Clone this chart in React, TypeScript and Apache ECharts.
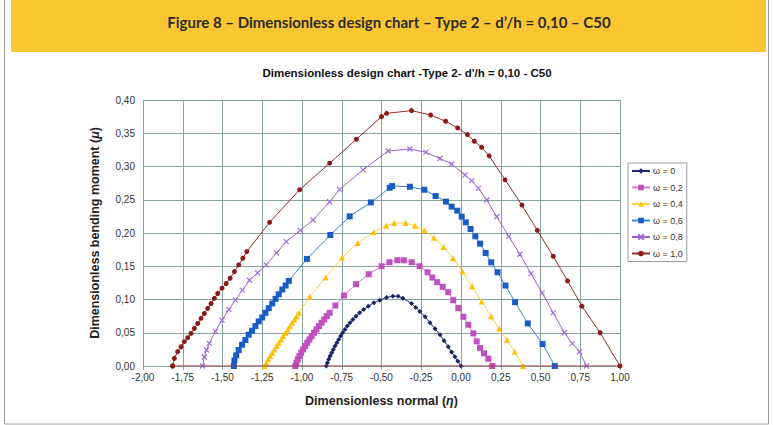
import React, { useEffect, useRef } from 'react';
import * as echarts from 'echarts';

const HEADER_TEXT = 'Figure 8 – Dimensionless design chart – Type 2 – d’/h = 0,10 – C50';
const CHART_TITLE = "Dimensionless design chart -Type 2- d'/h = 0,10 - C50";
const SERIES_NAMES = ['ω = 0', 'ω = 0,2', 'ω = 0,4', 'ω = 0,6', 'ω = 0,8', 'ω = 1,0'];

// [eta, mu] pairs
const W00: [number, number][] = [
  [-0.847, 0], [-0.84, 0.005], [-0.832, 0.01], [-0.823, 0.015], [-0.813, 0.02], [-0.803, 0.025],
  [-0.792, 0.03], [-0.781, 0.035], [-0.769, 0.04], [-0.757, 0.045], [-0.744, 0.05], [-0.73, 0.055],
  [-0.715, 0.06], [-0.698, 0.065], [-0.68, 0.07], [-0.66, 0.075], [-0.638, 0.08], [-0.612, 0.085],
  [-0.583, 0.09], [-0.548, 0.095], [-0.511, 0.099], [-0.468, 0.103], [-0.429, 0.105], [-0.395, 0.105],
  [-0.366, 0.102], [-0.311, 0.094], [-0.285, 0.088], [-0.259, 0.082], [-0.226, 0.074], [-0.195, 0.065],
  [-0.163, 0.056], [-0.132, 0.047], [-0.106, 0.038], [-0.08, 0.029], [-0.059, 0.021], [-0.038, 0.014],
  [-0.02, 0.007], [0, 0],
];
const W02: [number, number][] = [
  [-1.042, 0], [-1.035, 0.005], [-1.026, 0.01], [-1.016, 0.015], [-1.005, 0.02], [-0.993, 0.025],
  [-0.98, 0.03], [-0.967, 0.035], [-0.953, 0.04], [-0.939, 0.045], [-0.924, 0.05], [-0.909, 0.055],
  [-0.893, 0.06], [-0.877, 0.065], [-0.861, 0.07], [-0.844, 0.075], [-0.826, 0.08], [-0.79, 0.091],
  [-0.736, 0.106], [-0.66, 0.123], [-0.58, 0.138], [-0.5, 0.15], [-0.45, 0.156], [-0.4, 0.159],
  [-0.36, 0.159], [-0.31, 0.156], [-0.26, 0.15], [-0.21, 0.141], [-0.18, 0.133], [-0.15, 0.126],
  [-0.115, 0.119], [-0.08, 0.111], [-0.049, 0.099], [-0.017, 0.087], [0.015, 0.074], [0.046, 0.062],
  [0.078, 0.049], [0.099, 0.037], [0.12, 0.027], [0.145, 0.019], [0.172, 0.011], [0.197, 0],
];
const W04: [number, number][] = [
  [-1.236, 0], [-1.225, 0.005], [-1.213, 0.01], [-1.2, 0.015], [-1.187, 0.02], [-1.174, 0.025],
  [-1.16, 0.03], [-1.146, 0.035], [-1.132, 0.04], [-1.118, 0.045], [-1.104, 0.05], [-1.09, 0.055],
  [-1.076, 0.06], [-1.062, 0.065], [-1.048, 0.07], [-1.034, 0.075], [-1.02, 0.08], [-0.952, 0.104],
  [-0.851, 0.133], [-0.748, 0.163], [-0.65, 0.185], [-0.55, 0.201], [-0.47, 0.211], [-0.42, 0.215],
  [-0.35, 0.215], [-0.29, 0.211], [-0.23, 0.204], [-0.17, 0.193], [-0.11, 0.179], [-0.05, 0.162],
  [0.01, 0.142], [0.07, 0.12], [0.13, 0.097], [0.19, 0.075], [0.24, 0.056], [0.29, 0.039],
  [0.338, 0.0215], [0.39, 0],
];
const W06: [number, number][] = [
  [-1.429, 0], [-1.425, 0.0085], [-1.414, 0.016], [-1.398, 0.024], [-1.377, 0.032], [-1.356, 0.039],
  [-1.335, 0.047], [-1.314, 0.053], [-1.293, 0.06], [-1.272, 0.067], [-1.25, 0.073], [-1.23, 0.08],
  [-1.209, 0.087], [-1.187, 0.094], [-1.166, 0.101], [-1.146, 0.108], [-1.124, 0.115], [-1.103, 0.121],
  [-1.083, 0.128], [-0.969, 0.161], [-0.822, 0.197], [-0.7, 0.225], [-0.567, 0.246], [-0.448, 0.268],
  [-0.433, 0.2706], [-0.3215, 0.2696], [-0.231, 0.265], [-0.16, 0.2556], [-0.0946, 0.2472],
  [-0.0588, 0.2396], [-0.0233, 0.2336], [0.0044, 0.2245], [0.03, 0.216], [0.06, 0.206], [0.09, 0.195],
  [0.12, 0.184], [0.155, 0.17], [0.19, 0.156], [0.23, 0.141], [0.28, 0.121], [0.34, 0.096],
  [0.42, 0.064], [0.513, 0.033], [0.59, 0],
];
const W08: [number, number][] = [
  [-1.625, 0], [-1.614, 0.0135], [-1.6, 0.024], [-1.583, 0.034], [-1.545, 0.052], [-1.503, 0.069],
  [-1.46, 0.085], [-1.419, 0.099], [-1.375, 0.114], [-1.33, 0.129], [-1.28, 0.14], [-1.225, 0.152],
  [-1.16, 0.17], [-1.099, 0.187], [-1.01, 0.204], [-0.931, 0.2195], [-0.826, 0.247], [-0.763, 0.2657],
  [-0.616, 0.295], [-0.458, 0.3233], [-0.3215, 0.3263], [-0.2207, 0.3213], [-0.132, 0.312],
  [-0.0588, 0.3038], [0.0252, 0.2872], [0.0672, 0.2787], [0.109, 0.267], [0.162, 0.2496],
  [0.225, 0.2245], [0.3, 0.195], [0.37, 0.168], [0.44, 0.139], [0.51, 0.11], [0.58, 0.08],
  [0.65, 0.05], [0.7, 0.034], [0.745, 0.0215], [0.79, 0],
];
const W10: [number, number][] = [
  [-1.814, 0], [-1.803, 0.0115], [-1.782, 0.0216], [-1.761, 0.029], [-1.74, 0.0366], [-1.719, 0.0426],
  [-1.698, 0.049], [-1.677, 0.0566], [-1.656, 0.064], [-1.635, 0.0717], [-1.614, 0.079], [-1.593, 0.0867],
  [-1.572, 0.094], [-1.551, 0.1018], [-1.53, 0.109], [-1.503, 0.117], [-1.477, 0.124], [-1.452, 0.132],
  [-1.425, 0.142], [-1.398, 0.152], [-1.372, 0.162], [-1.347, 0.172], [-1.204, 0.216], [-1.015, 0.265],
  [-0.826, 0.305], [-0.658, 0.341], [-0.5, 0.375], [-0.468, 0.38], [-0.311, 0.384], [-0.191, 0.3774],
  [-0.0966, 0.368], [-0.021, 0.358], [0.04, 0.348], [0.084, 0.338], [0.13, 0.329], [0.177, 0.316],
  [0.277, 0.28], [0.383, 0.242], [0.48, 0.204], [0.58, 0.165], [0.67, 0.128], [0.76, 0.09],
  [0.875, 0.05], [1.0, 0], [-1.814, 0],
];

const SERIES_DATA = [W00, W02, W04, W06, W08, W10];
const LINE_COLORS = ['#1d2a6e', '#d07ad0', '#ffcf40', '#3b82d8', '#9a5fd0', '#9a2b2b'];
const MARK_COLORS = ['#1b2566', '#c050c0', '#ffc000', '#1a5cc6', '#a070d8', '#8b1a1a'];
const SYMBOLS = ['diamond', 'rect', 'triangle', 'rect', 'path://M0,0L10,10M10,0L0,10', 'circle'];
const SYMBOL_SIZES = [5, 6, 6, 6, 5, 5];

const fmt = (v: number) => v.toFixed(2).replace('.', ',');
const GRID_COLOR = '#87a4a2';

export default function App() {
  const ref = useRef<HTMLDivElement>(null);
  useEffect(() => {
    if (!ref.current) return;
    const chart = echarts.init(ref.current, undefined, { renderer: 'svg' });
    const series = SERIES_DATA.map((d, i) => ({
      name: SERIES_NAMES[i],
      type: 'line',
      data: d,
      symbol: SYMBOLS[i],
      symbolSize: SYMBOL_SIZES[i],
      showAllSymbol: true,
      lineStyle: { color: LINE_COLORS[i], width: 1 },
      itemStyle: {
        color: MARK_COLORS[i],
        borderColor: MARK_COLORS[i],
        borderWidth: i === 4 ? 1.2 : 0,
      },
      z: 3 + i,
    }));
    const axisLabel = { formatter: fmt, fontFamily: 'Liberation Sans', fontSize: 10, color: '#333' };
    chart.setOption({
      animation: false,
      backgroundColor: '#ffffff',
      grid: { left: 143, top: 100, width: 477, height: 266 },
      xAxis: {
        type: 'value', min: -2, max: 1, interval: 0.25,
        axisLine: { onZero: false, lineStyle: { color: GRID_COLOR } },
        axisTick: { show: true, length: 4, lineStyle: { color: GRID_COLOR } },
        axisLabel: { ...axisLabel, margin: 6 },
        splitLine: { show: true, lineStyle: { color: GRID_COLOR, width: 1 } },
        name: '{a|Dimensionless normal (}{b|η}{a|)}',
        nameLocation: 'middle', nameGap: 28,
        nameTextStyle: {
          rich: {
            a: { fontFamily: 'Liberation Sans', fontWeight: 'bold', fontSize: 12.5, color: '#222' },
            b: { fontFamily: 'Liberation Sans', fontWeight: 'bold', fontStyle: 'italic', fontSize: 12.5, color: '#222' },
          },
        },
      },
      yAxis: {
        type: 'value', min: 0, max: 0.4, interval: 0.05,
        axisLine: { show: true, lineStyle: { color: GRID_COLOR } },
        axisTick: { show: true, length: 4, lineStyle: { color: GRID_COLOR } },
        axisLabel: { ...axisLabel, margin: 8 },
        splitLine: { show: true, lineStyle: { color: GRID_COLOR, width: 1 } },
        name: '{a|Dimensionless bending moment (}{b|μ}{a|)}',
        nameLocation: 'middle', nameGap: 42, nameRotate: 90,
        nameTextStyle: {
          rich: {
            a: { fontFamily: 'Liberation Sans', fontWeight: 'bold', fontSize: 12.5, color: '#222' },
            b: { fontFamily: 'Liberation Sans', fontWeight: 'bold', fontStyle: 'italic', fontSize: 12.5, color: '#222' },
          },
        },
      },
      legend: {
        data: SERIES_NAMES,
        orient: 'vertical',
        left: 628, top: 163,
        backgroundColor: '#ffffff',
        borderColor: '#9a9a9a', borderWidth: 1,
        padding: [3, 4, 3, 3],
        itemWidth: 18, itemHeight: 7, itemGap: 6.5,
        textStyle: { fontFamily: 'Liberation Sans', fontSize: 9, color: '#333', lineHeight: 10, padding: [0, 0, 0, -2] },
      },
      graphic: [
        { type: 'rect', silent: true, shape: { x: 4.5, y: -2, width: 764, height: 426 }, style: { fill: 'none', stroke: '#a0a0a0', lineWidth: 1 } },
        { type: 'rect', silent: true, shape: { x: 11, y: 0, width: 755, height: 52 }, style: { fill: '#fcc633' } },
        {
          type: 'text', silent: true, x: 389, y: 22,
          style: { text: HEADER_TEXT, fill: '#2b2b2b', fontFamily: 'Lato', fontSize: 15, fontWeight: 'bold', align: 'center', verticalAlign: 'middle' },
        },
        {
          type: 'text', silent: true, x: 407, y: 73,
          style: { text: CHART_TITLE, fill: '#111', fontFamily: 'Liberation Sans', fontSize: 11.5, fontWeight: 'bold', align: 'center', verticalAlign: 'middle' },
        },
      ],
      series,
    });
    return () => chart.dispose();
  }, []);
  return <div ref={ref} style={{ position: 'fixed', left: 0, top: 0, width: 773, height: 425 }} />;
}
